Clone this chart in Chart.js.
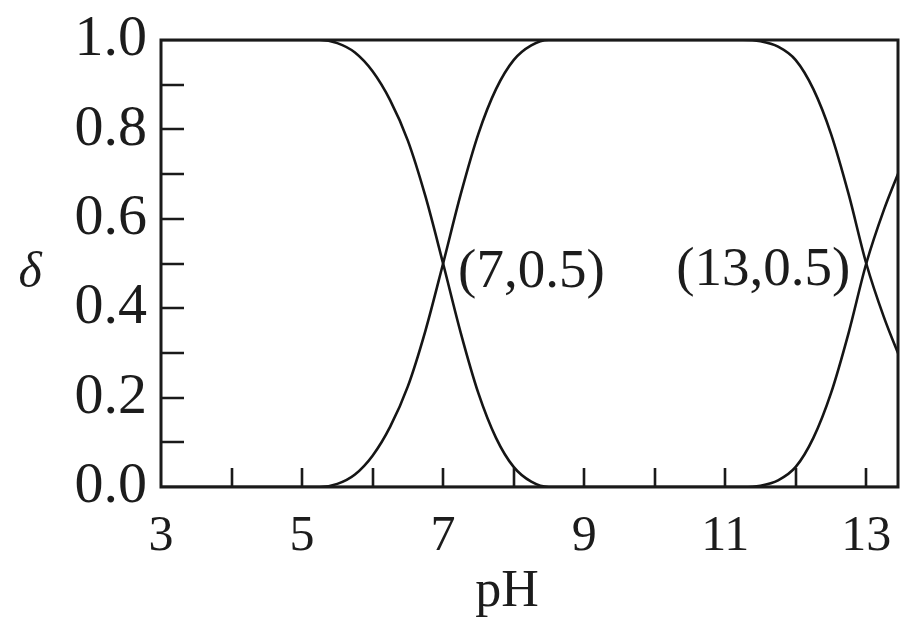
<!DOCTYPE html>
<html>
<head>
<meta charset="utf-8">
<script src="https://cdn.jsdelivr.net/npm/chart.js@4/dist/chart.umd.min.js"></script>
<style>
html,body{margin:0;padding:0;background:#fff;}
#wrap{width:901px;height:623px;position:relative;}
</style>
</head>
<body>
<div id="wrap"><canvas id="c" width="901" height="623"></canvas></div>
<script>
// ---- data ----
const pH = [3.0,3.5,4.0,4.5,5.0,5.25,5.5,5.75,6.0,6.25,6.5,6.75,7.0,7.25,7.5,7.75,8.0,8.25,8.5,8.75,9.0,9.5,10.0,10.5,11.0,11.25,11.5,11.75,12.0,12.25,12.5,12.75,13.0,13.25,13.5];
const deltaH2A = [1,1,1,1,1,1,0.993,0.972,0.93,0.865,0.775,0.65,0.5,0.345,0.21,0.11,0.045,0.012,0,0,0,0,0,0,0,0,0,0,0,0,0,0,0,0,0];
const deltaHA  = [0,0,0,0,0,0,0.007,0.028,0.07,0.135,0.225,0.35,0.5,0.655,0.79,0.89,0.955,0.988,1,1,1,1,1,1,1,1,0.997,0.985,0.955,0.89,0.79,0.655,0.5,0.38,0.28];
const deltaA   = [0,0,0,0,0,0,0,0,0,0,0,0,0,0,0,0,0,0,0,0,0,0,0,0,0,0,0.003,0.015,0.045,0.11,0.21,0.345,0.5,0.62,0.72];
const xTickLabels = [3,5,7,9,11,13];
const xTickMarks = [4,5,6,7,8,9,10,11,12,13];
const yTickLabels = [0,0.2,0.4,0.6,0.8,1.0];
const yTickMarks = [0.1,0.2,0.3,0.4,0.5,0.6,0.7,0.8,0.9];
const points = [
  {x:7, y:0.5, text:'(7,0.5)', side:'right'},
  {x:13, y:0.5, text:'(13,0.5)', side:'left'}
];
const xTitle = 'pH';
const yTitle = 'δ';

const FONT = '"Liberation Serif","Times New Roman",serif';
const INK = '#1c1c1c';

function series(vals){ return pH.map((x,i)=>({x:x, y:vals[i]})); }
const lineStyle = {borderColor:'#151515', borderWidth:2.6, pointRadius:0, fill:false, cubicInterpolationMode:'monotone'};

const framePlugin = {
  id:'frame',
  afterDraw(chart){
    const ctx = chart.ctx, a = chart.chartArea;
    const xs = chart.scales.x, ys = chart.scales.y;
    ctx.save();
    ctx.strokeStyle = '#1a1a1a';
    ctx.lineWidth = 3;
    ctx.strokeRect(a.left, a.top, a.right - a.left, a.bottom - a.top);
    ctx.lineWidth = 2.6;
    ctx.beginPath();
    xTickMarks.forEach(v=>{
      const px = Math.round(xs.getPixelForValue(v));
      ctx.moveTo(px, a.bottom); ctx.lineTo(px, a.bottom - 19);
    });
    yTickMarks.forEach(v=>{
      const py = Math.round(ys.getPixelForValue(v));
      ctx.moveTo(a.left, py); ctx.lineTo(a.left + 23, py);
    });
    ctx.stroke();
    // point annotations
    ctx.fillStyle = INK;
    ctx.font = '55px ' + FONT;
    ctx.textBaseline = 'middle';
    points.forEach(p=>{
      const px = xs.getPixelForValue(p.x), py = ys.getPixelForValue(p.y);
      if (p.side === 'right'){ ctx.textAlign = 'left'; ctx.fillText(p.text, px + 15, py + 9); }
      else { ctx.textAlign = 'right'; ctx.fillText(p.text, px - 16, py + 7); }
    });
    // axis titles
    ctx.textAlign = 'center';
    ctx.textBaseline = 'alphabetic';
    ctx.font = '52px ' + FONT;
    ctx.fillText(xTitle, 507, 606);
    ctx.font = 'italic 50px ' + FONT;
    ctx.fillText(yTitle, 30, 287);
    ctx.restore();
  }
};

new Chart(document.getElementById('c'), {
  type:'line',
  data:{ datasets:[
    Object.assign({label:'H2A', data:series(deltaH2A)}, lineStyle),
    Object.assign({label:'HA-', data:series(deltaHA)}, lineStyle),
    Object.assign({label:'A2-', data:series(deltaA)}, lineStyle)
  ]},
  options:{
    responsive:false,
    animation:false,
    events:[],
    layout:{padding:{top:40, right:3, left:0, bottom:0}},
    plugins:{legend:{display:false}, tooltip:{enabled:false}, title:{display:false}},
    scales:{
      x:{
        type:'linear', min:3, max:13.45,
        afterBuildTicks(s){ s.ticks = xTickLabels.map(v=>({value:v})); },
        afterFit(s){ s.height = 136; s.paddingLeft = 0; s.paddingRight = 0; },
        grid:{display:false, drawTicks:false},
        border:{display:false},
        ticks:{padding:20, maxRotation:0, autoSkip:false, color:INK,
          font:{family:FONT, size:50}, callback:v=>String(v)}
      },
      y:{
        type:'linear', min:0, max:1,
        afterBuildTicks(s){ s.ticks = yTickLabels.map(v=>({value:v})); },
        afterFit(s){ s.width = 161; s.paddingTop = 0; s.paddingBottom = 0; },
        grid:{display:false, drawTicks:false},
        border:{display:false},
        ticks:{padding:14, autoSkip:false, color:INK,
          font:{family:FONT, size:58}, callback:v=>Number(v).toFixed(1)}
      }
    }
  },
  plugins:[framePlugin]
});
</script>
</body>
</html>
